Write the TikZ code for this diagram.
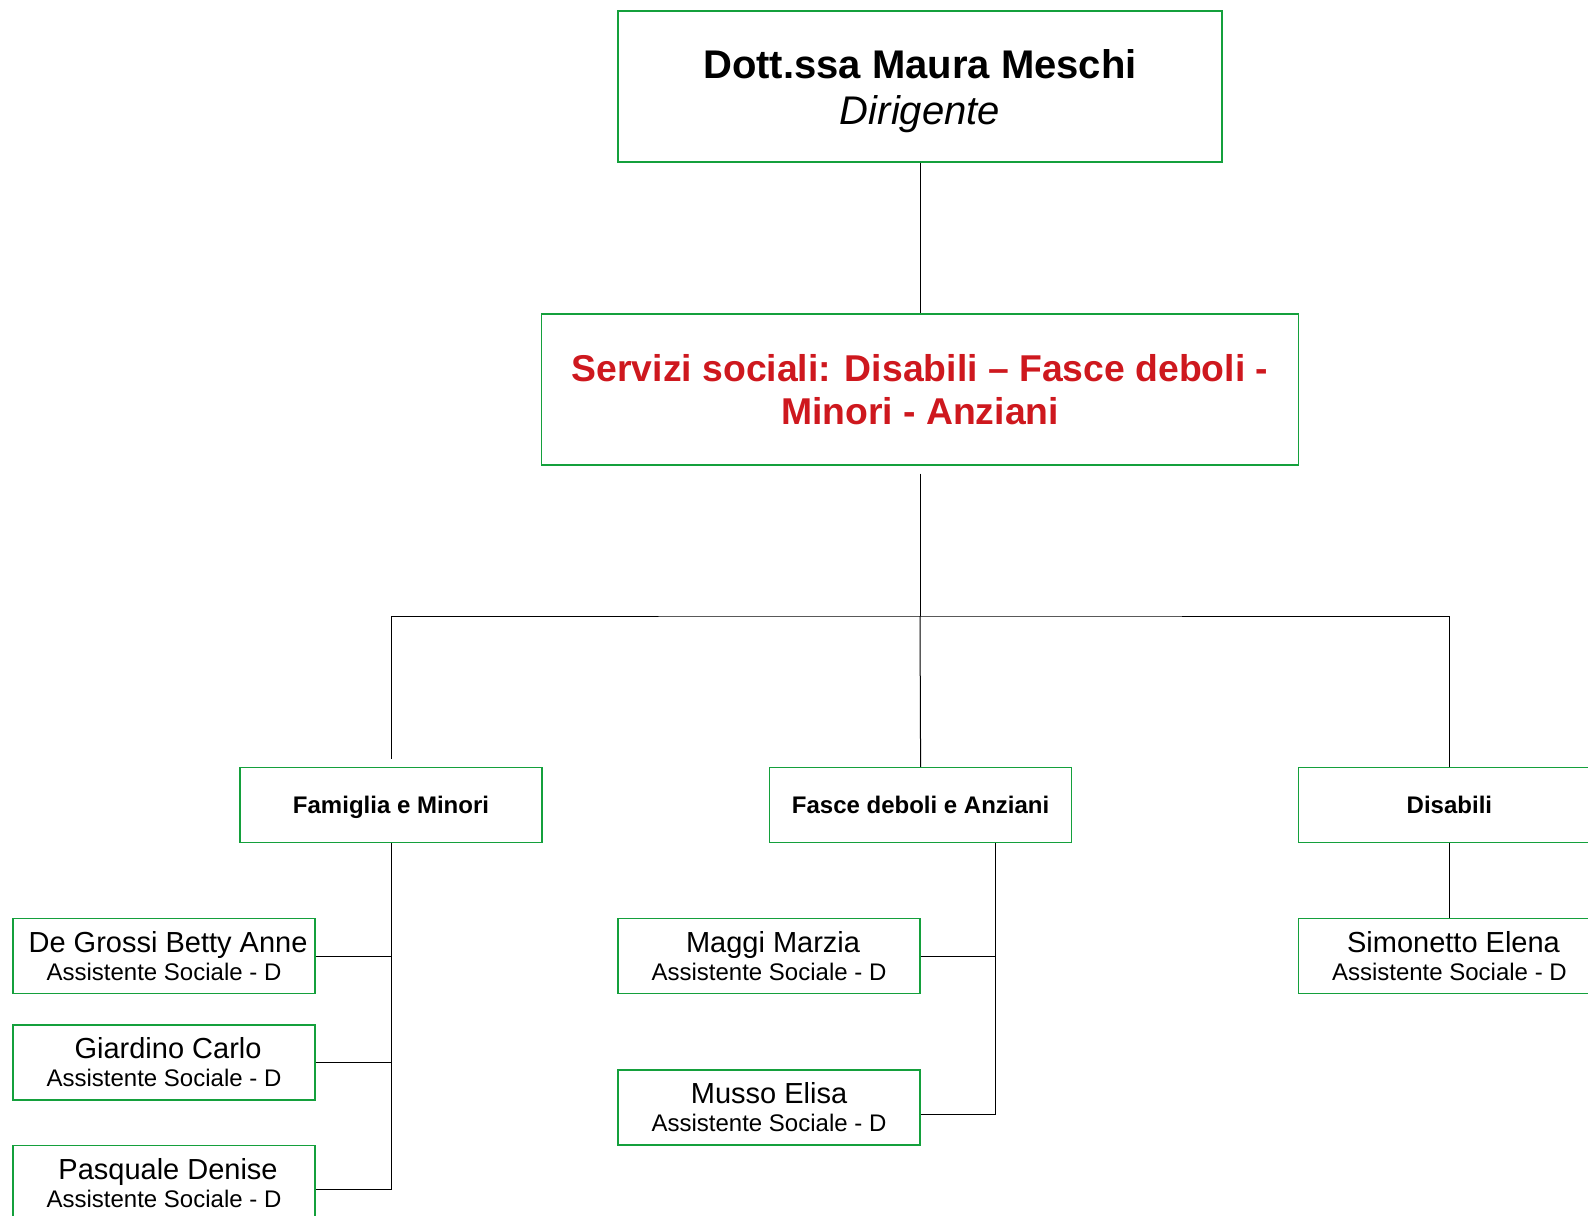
\documentclass[tikz,border=0pt]{standalone}
\usepackage{fontspec}
\setmainfont{Liberation Sans}
\usepackage{tikz}
\usepackage{color}
\definecolor{boxgreen}{RGB}{20,160,60}
\definecolor{unitred}{RGB}{206,24,30}

\begin{document}
\begin{tikzpicture}[x=0.75pt,y=-0.75pt,
  box/.style={draw=boxgreen,line width=0.8pt,inner sep=0pt,align=center},
  big/.style={box,minimum height=113.25pt},
  small/.style={box,minimum width=226.5pt,minimum height=56.25pt},
  group/.style={small,text height=13.1pt,text depth=0pt,font=\bfseries\fontsize{18}{21}\selectfont},
  person/.style={small,font=\fontsize{21.75}{21}\selectfont},
  link/.style={line width=0.75pt}]
  \useasboundingbox (0,0) rectangle (1588,1216);
  \node [big,minimum width=453pt,font=\fontsize{30}{33}\selectfont] (dir) at (920,86.5)
    {\rule{0pt}{28pt}\textbf{Dott.ssa Maura Meschi}\\[1.5pt]\textit{Dirigente}};
  \node [big,minimum width=567.5pt,text=unitred,font=\bfseries\fontsize{28}{32}\selectfont] (serv) at (920,389.5)
    {Servizi sociali: Disabili – Fasce deboli -\\Minori - Anziani};
  \coordinate (bus) at (920,616);
  \node [group] (fam) at (391,805) {Famiglia e Minori};
  \node [group] (fas) at (920.6,805) {Fasce deboli e Anziani};
  \node [group] (dis) at (1449.4,805) {Disabili};
  \node [person] (deg) at (164,956)
    {\hspace*{0.28em}De Grossi Betty Anne\\{\fontsize{18}{21}\selectfont Assistente Sociale - D}};
  \node [person] (gia) at (164,1062.5)
    {\hspace*{0.28em}Giardino Carlo\\{\fontsize{18}{21}\selectfont Assistente Sociale - D}};
  \node [person] (pas) at (164,1183)
    {\hspace*{0.28em}Pasquale Denise\\{\fontsize{18}{21}\selectfont Assistente Sociale - D}};
  \node [person] (mag) at (769,956)
    {\hspace*{0.28em}Maggi Marzia\\{\fontsize{18}{21}\selectfont Assistente Sociale - D}};
  \node [person] (mus) at (769,1107.5)
    {Musso Elisa\\{\fontsize{18}{21}\selectfont Assistente Sociale - D}};
  \node [person] (sim) at (1449.4,956)
    {\hspace*{0.28em}Simonetto Elena\\{\fontsize{18}{21}\selectfont Assistente Sociale - D}};
  \draw [link] (dir.south) -- (serv.north);
  \draw [link] ([yshift=-6pt]serv.south) -- (bus);
  \draw [link] ([yshift=6pt]fam.north) |- (bus) -| (dis.north);
  \draw [link] (bus) -- (fas.north);
  \draw [link] (fam.south) |- ([yshift=-5pt]pas.east);
  \draw [link] (deg.east) -| (fam.south);
  \draw [link] (gia.east) -| (fam.south);
  \draw [link] ([xshift=56pt]fas.south) |- ([yshift=-5.6pt]mus.east);
  \draw [link] (mag.east) -| ([xshift=56pt]fas.south);
  \draw [link] (dis.south) -- (sim.north);
\end{tikzpicture}
\end{document}
